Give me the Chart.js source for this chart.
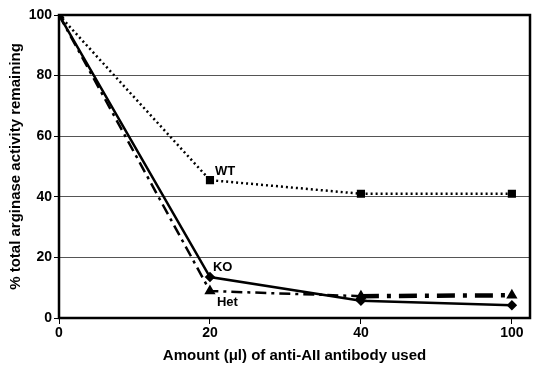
<!DOCTYPE html>
<html>
<head>
<meta charset="utf-8">
<script src="https://cdn.jsdelivr.net/npm/chart.js@4/dist/chart.umd.min.js"></script>
<style>
  html, body { margin: 0; padding: 0; background: #fff; }
  #wrap { width: 542px; height: 365px; position: relative; }
</style>
</head>
<body>
<div id="wrap"><canvas id="c"></canvas></div>
<script>
"use strict";

// Category labels on the x axis (antibody amount, µl)
const xLabels = ["0", "20", "40", "100"];

// % total arginase activity remaining
const wtValues = [100, 45.5, 41, 41];
const koValues = [100, 13.5, 5.7, 4.2];
const hetValues = [100, 8.9, 7.2, 7.5];

const seriesNames = ["WT", "KO", "Het"];

const toPoints = (vals) => vals.map((v, i) => ({ x: i, y: v }));

const FONT = "'Liberation Sans', Arial, sans-serif";

// Draws the thick black frame round the plot area
const framePlugin = {
  id: "frame",
  afterDatasetsDraw(chart) {
    const { ctx, chartArea: a } = chart;
    ctx.save();
    ctx.strokeStyle = "#000";
    ctx.lineWidth = 2.5;
    ctx.strokeRect(a.left, a.top, a.right - a.left, a.bottom - a.top);
    ctx.restore();
  },
};

// Series labels next to the 20 µl points
const seriesLabelPlugin = {
  id: "seriesLabels",
  afterDatasetsDraw(chart, args, opts) {
    const { ctx } = chart;
    ctx.save();
    ctx.fillStyle = "#000";
    ctx.font = "bold 13px " + FONT;
    ctx.textAlign = "left";
    ctx.textBaseline = "middle";
    opts.items.forEach((it) => {
      const pt = chart.getDatasetMeta(it.dataset).data[it.index];
      ctx.fillText(seriesNames[it.dataset], pt.x + it.dx, pt.y + it.dy);
    });
    ctx.restore();
  },
};

new Chart(document.getElementById("c"), {
  type: "line",
  data: {
    datasets: [
      {
        label: seriesNames[0],
        data: toPoints(wtValues),
        borderColor: "#000",
        backgroundColor: "#000",
        borderWidth: 2.5,
        borderDash: [2, 3],
        pointStyle: "rect",
        pointRadius: 4,
        tension: 0,
      },
      {
        label: seriesNames[1],
        data: toPoints(koValues),
        borderColor: "#000",
        backgroundColor: "#000",
        borderWidth: 2.5,
        pointStyle: "rectRot",
        pointRadius: 3.5,
        tension: 0,
      },
      {
        label: seriesNames[2],
        data: toPoints(hetValues),
        borderColor: "#000",
        backgroundColor: "#000",
        borderWidth: 2.5,
        borderDash: [11, 5, 3, 5],
        pointStyle: "triangle",
        pointRadius: 4,
        tension: 0,
        segment: {
          borderWidth: (c) => (c.p0DataIndex >= 2 ? 4.5 : 2.5),
          borderDash: (c) => (c.p0DataIndex >= 2 ? [18, 8, 4, 8] : [11, 5, 3, 5]),
        },
      },
    ],
  },
  options: {
    responsive: true,
    maintainAspectRatio: false,
    animation: false,
    layout: { padding: { top: 15, right: 12, left: 7, bottom: 0 } },
    plugins: {
      legend: { display: false },
      tooltip: { enabled: false },
      seriesLabels: {
        items: [
          { dataset: 0, index: 1, dx: 5, dy: -9 },
          { dataset: 1, index: 1, dx: 3, dy: -10 },
          { dataset: 2, index: 1, dx: 7, dy: 11 },
        ],
      },
    },
    scales: {
      x: {
        type: "linear",
        min: 0,
        max: 3.12,
        afterFit(s) { s.height = 47; },
        afterBuildTicks(s) { s.ticks = xLabels.map((_, i) => ({ value: i })); },
        ticks: {
          autoSkip: false,
          color: "#000",
          font: { family: FONT, weight: "bold", size: 14 },
          padding: 1,
          callback: (v) => xLabels[v],
        },
        grid: { drawOnChartArea: false, drawTicks: true, tickLength: 6, color: "#000", lineWidth: 1 },
        border: { display: false },
        title: {
          display: true,
          text: "Amount (μl) of anti-AII antibody used",
          color: "#000",
          font: { family: FONT, weight: "bold", size: 15 },
          padding: { top: 1, bottom: 0 },
        },
      },
      y: {
        min: 0,
        max: 100,
        afterFit(s) { s.width = 52; },
        ticks: {
          stepSize: 20,
          color: "#000",
          font: { family: FONT, weight: "bold", size: 14 },
          padding: 2,
        },
        grid: { color: "#555", lineWidth: 1, tickLength: 5, tickColor: "#000" },
        border: { display: false },
        title: {
          display: true,
          text: "% total arginase activity remaining",
          color: "#000",
          font: { family: FONT, weight: "bold", size: 15 },
          padding: { top: 0, bottom: 2 },
        },
      },
    },
  },
  plugins: [framePlugin, seriesLabelPlugin],
});
</script>
</body>
</html>
